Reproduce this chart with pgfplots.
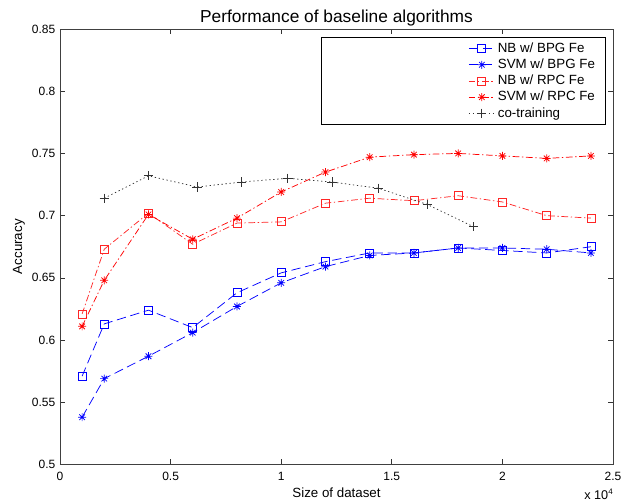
\documentclass[border=0pt]{standalone}
\usepackage{fontspec}
\setmainfont{Liberation Sans}
\usepackage{pgfplots}
\pgfplotsset{compat=1.18}
\usepackage{pgfplotstable}

% Matlab style '*' marker: plus and cross on top of each other
\pgfdeclareplotmark{mstar}{%
  \pgfpathmoveto{\pgfqpoint{-\pgfplotmarksize}{0pt}}%
  \pgfpathlineto{\pgfqpoint{\pgfplotmarksize}{0pt}}%
  \pgfpathmoveto{\pgfqpoint{0pt}{-\pgfplotmarksize}}%
  \pgfpathlineto{\pgfqpoint{0pt}{\pgfplotmarksize}}%
  \pgfpathmoveto{\pgfqpoint{-0.7\pgfplotmarksize}{-0.7\pgfplotmarksize}}%
  \pgfpathlineto{\pgfqpoint{0.7\pgfplotmarksize}{0.7\pgfplotmarksize}}%
  \pgfpathmoveto{\pgfqpoint{-0.7\pgfplotmarksize}{0.7\pgfplotmarksize}}%
  \pgfpathlineto{\pgfqpoint{0.7\pgfplotmarksize}{-0.7\pgfplotmarksize}}%
  \pgfusepathqstroke
}

\pgfplotstableread{
x    nbbpg svmbpg nbrpc svmrpc
0.1  0.571 0.538  0.621 0.611
0.2  0.613 0.569  0.673 0.648
0.4  0.624 0.587  0.702 0.701
0.6  0.610 0.606  0.677 0.681
0.8  0.638 0.627  0.694 0.698
1.0  0.654 0.646  0.695 0.719
1.2  0.663 0.659  0.710 0.735
1.4  0.670 0.668  0.714 0.747
1.6  0.670 0.670  0.712 0.749
1.8  0.674 0.674  0.716 0.750
2.0  0.672 0.674  0.711 0.748
2.2  0.670 0.673  0.700 0.746
2.4  0.675 0.670  0.698 0.748
}\baseline

\pgfplotstableread{
x    acc
0.20 0.714
0.40 0.732
0.62 0.723
0.82 0.727
1.03 0.730
1.23 0.727
1.44 0.722
1.66 0.709
1.87 0.691
}\cotrain

\begin{document}
\begin{tikzpicture}
\begin{axis}[
    width=414.75pt, height=326.6pt,
    scale only axis,
    clip mode=individual,
    xmin=0, xmax=2.5, ymin=0.5, ymax=0.85,
    xtick={0,0.5,1,1.5,2,2.5},
    xticklabels={0,0.5,1,1.5,2,2.5},
    ytick={0.5,0.55,0.6,0.65,0.7,0.75,0.8,0.85},
    yticklabels={0.5,0.55,0.6,0.65,0.7,0.75,0.8,0.85},
    tick align=inside,
    major tick length=4pt,
    tick label style={font=\fontsize{9}{10}\selectfont},
    xticklabel style={yshift=-2pt},
    label style={font=\fontsize{10}{12}\selectfont},
    xlabel={Size of dataset},
    ylabel={Accuracy},
    xlabel style={at={(axis description cs:0.5,-0.064)}, anchor=center},
    ylabel style={at={(axis description cs:-0.0741,0.5)}, anchor=center},
    title={Performance of baseline algorithms},
    title style={font=\fontsize{13}{15}\selectfont, at={(0.5,1)}, anchor=base, yshift=-1pt},
    axis line style={black!75, line width=0.6pt},
    every tick/.style={black!80, line width=0.5pt},
    legend cell align=left,
    legend style={at={(0.9873,0.9816)}, anchor=north east, draw=black,
      line width=0.6pt, font=\fontsize{10}{12}\selectfont,
      inner xsep=6pt, inner ysep=2pt, row sep=-0.6pt},
    legend image code/.code={
      \path (-104pt,0pt);
      \draw[mark repeat=2,mark phase=2] plot coordinates {(0pt,0pt)(9.75pt,0pt)(19.5pt,0pt)};
    },
]
\addplot[blue, line width=0.55pt, dash pattern=on 7pt off 3.5pt,
    mark=square, mark size=3pt, mark options={solid}] table[x=x, y=nbbpg] {\baseline};
\addplot[blue, line width=0.55pt, dash pattern=on 7pt off 3.5pt,
    mark=mstar, mark size=3pt, mark options={solid}] table[x=x, y=svmbpg] {\baseline};
\addplot[red!85!white, line width=0.55pt, dash pattern=on 5pt off 2pt on 1pt off 2pt,
    mark=square, mark size=3pt, mark options={solid}] table[x=x, y=nbrpc] {\baseline};
\addplot[red, line width=0.55pt, dash pattern=on 5pt off 2pt on 1pt off 2pt,
    mark=mstar, mark size=3pt, mark options={solid}] table[x=x, y=svmrpc] {\baseline};
\addplot[black!80, line width=0.55pt, dash pattern=on 1pt off 2pt,
    mark=+, mark size=3.5pt, mark options={solid}] table[x=x, y=acc] {\cotrain};
\legend{NB w/ BPG Fe, SVM w/ BPG Fe, NB w/ RPC Fe, SVM w/ RPC Fe, co-training}
\node[anchor=east, font=\fontsize{9.5}{11}\selectfont, inner sep=0pt]
    at (axis description cs:1,-0.069) {x 10\raisebox{4pt}{\fontsize{6}{7}\selectfont 4}};
\end{axis}
\path ([xshift=-45pt,yshift=-29.5pt]current axis.south west)
   rectangle ([xshift=15.75pt,yshift=21.75pt]current axis.north east);
\end{tikzpicture}
\end{document}
